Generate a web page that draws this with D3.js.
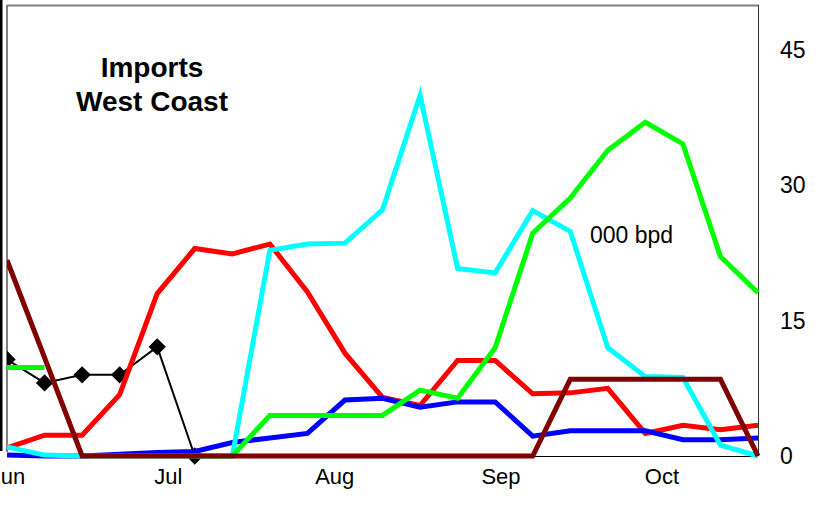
<!DOCTYPE html>
<html>
<head>
<meta charset="utf-8">
<script src="https://cdn.jsdelivr.net/npm/d3@7"></script>
<style>
  body { margin: 0; background: #fff; }
  svg { display: block; font-family: Arial, "Liberation Sans", sans-serif; }
</style>
</head>
<body>
<div id="chart"></div>
<script>
var w = 818, h = 506;
var plot = {left: 7, right: 758, top: 5, bottom: 456};

// weekly observations
var weeks = ["2003-06-01","2003-06-08","2003-06-15","2003-06-22","2003-06-29",
             "2003-07-06","2003-07-13","2003-07-20","2003-07-27","2003-08-03",
             "2003-08-10","2003-08-17","2003-08-24","2003-08-31","2003-09-07",
             "2003-09-14","2003-09-21","2003-09-28","2003-10-05","2003-10-12","2003-10-19"];

var monthTicks = ["2003-06-01","2003-07-01","2003-08-01","2003-09-01","2003-10-01"];
var monthLabels = ["Jun","Jul","Aug","Sep","Oct"];
var yTicks = [0, 15, 30, 45];

var redVals    = [0.9, 2.3, 2.3, 6.8, 18.0, 23.0, 22.4, 23.5, 18.2, 11.4, 6.5, 5.6, 10.6, 10.6, 6.9, 7.0, 7.5, 2.5, 3.4, 2.9, 3.4];
var blueVals   = [0.1, 0, 0, 0.2, 0.4, 0.5, 1.5, 2.0, 2.5, 6.2, 6.4, 5.4, 6.0, 6.0, 2.2, 2.8, 2.8, 2.8, 1.8, 1.8, 2.0];
var cyanVals   = [1.0, 0.1, 0, 0, 0, 0, 0, 22.8, 23.5, 23.6, 27.3, 40.0, 20.8, 20.3, 27.2, 24.9, 12.0, 8.8, 8.7, 1.2, 0];
var greenVals  = [9.8, 9.8, null, null, null, 0, 0, 4.5, 4.5, 4.5, 4.5, 7.3, 6.4, 12.0, 24.7, 28.6, 33.9, 37.0, 34.6, 22.1, 18.1];
var maroonVals = [21.7, 10.9, 0, 0, 0, 0, 0, 0, 0, 0, 0, 0, 0, 0, 0, 8.5, 8.5, 8.5, 8.5, 8.5, 0];
var blackVals  = [10.7, 8.1, 9.0, 9.0, 12.1, 0, null, null, null, null, null, null, null, null, null, null, null, null, null, null, null];

var parse = d3.timeParse("%Y-%m-%d");
var dates = weeks.map(parse);

var series = [
  {name: "black",  values: blackVals,  color: "#000000", width: 2},
  {name: "red",    values: redVals,    color: "#ff0000", width: 5},
  {name: "blue",   values: blueVals,   color: "#0000ff", width: 5},
  {name: "cyan",   values: cyanVals,   color: "#00ffff", width: 5},
  {name: "green",  values: greenVals,  color: "#00ff00", width: 5},
  {name: "maroon", values: maroonVals, color: "#800000", width: 5}
];

var svg = d3.select("#chart").append("svg")
            .attr("width", w)
            .attr("height", h);

var xScale = d3.scaleTime()
               .domain([dates[0], dates[dates.length - 1]])
               .range([plot.left, plot.right]);

var yScale = d3.scaleLinear()
               .domain([0, 50])
               .range([plot.bottom, plot.top]);

// clip marks at left edge of the frame
svg.append("clipPath").attr("id", "plotclip")
   .append("rect")
   .attr("x", plot.left).attr("y", 0)
   .attr("width", w - plot.left).attr("height", h);

// remnant of the neighbouring panel at the far left
svg.append("line")
   .attr("x1", 1).attr("x2", 1)
   .attr("y1", 0).attr("y2", 451)
   .attr("stroke", "#000").attr("stroke-width", 3);

// frame
svg.append("line")
   .attr("x1", plot.left).attr("x2", plot.right + 1)
   .attr("y1", plot.top + 0.5).attr("y2", plot.top + 0.5)
   .attr("stroke", "#808080").attr("stroke-width", 2);
svg.append("line")
   .attr("x1", plot.left).attr("x2", plot.left)
   .attr("y1", plot.top).attr("y2", plot.bottom - 4)
   .attr("stroke", "#808080").attr("stroke-width", 2);
svg.append("line")
   .attr("x1", plot.right + 0.5).attr("x2", plot.right + 0.5)
   .attr("y1", plot.top).attr("y2", plot.bottom)
   .attr("stroke", "#333").attr("stroke-width", 1);
svg.append("line")
   .attr("x1", plot.left).attr("x2", plot.right)
   .attr("y1", plot.bottom + 0.5).attr("y2", plot.bottom + 0.5)
   .attr("stroke", "#000").attr("stroke-width", 1);

// lines
var line = d3.line()
             .defined(function(d) { return d != null; })
             .x(function(d, i) { return xScale(dates[i]); })
             .y(function(d) { return yScale(d); });

var marks = svg.append("g").attr("clip-path", "url(#plotclip)");

marks.selectAll("path.series")
     .data(series)
     .enter()
     .append("path")
     .attr("class", "series")
     .attr("d", function(d) { return line(d.values); })
     .attr("fill", "none")
     .attr("stroke", function(d) { return d.color; })
     .attr("stroke-width", function(d) { return d.width; });

// diamonds on the black series (drawn right after it, under the thick lines)
var diamond = d3.symbol().type(d3.symbolSquare).size(150);
marks.insert("g", "path.series:nth-of-type(2)")
     .selectAll("path")
     .data(blackVals.map(function(v, i) { return {v: v, d: dates[i]}; })
                    .filter(function(p) { return p.v != null; }))
     .enter()
     .append("path")
     .attr("d", diamond)
     .attr("transform", function(p) {
         return "translate(" + xScale(p.d) + "," + yScale(p.v) + ")rotate(45)";
     })
     .attr("fill", "#000");

// x axis month labels
var xAxis = d3.axisBottom(xScale)
              .tickValues(monthTicks.map(parse))
              .tickFormat(function(d, i) { return monthLabels[i]; })
              .tickSize(0)
              .tickPadding(12);
var gx = svg.append("g")
            .attr("transform", "translate(0," + plot.bottom + ")")
            .call(xAxis);
gx.select(".domain").remove();
gx.selectAll("text")
  .attr("font-size", "22px")
  .attr("font-family", "Arial, 'Liberation Sans', sans-serif")
  .attr("fill", "#000");

// right y axis
var yAxis = d3.axisRight(yScale)
              .tickValues(yTicks)
              .tickSize(0)
              .tickPadding(22);
var gy = svg.append("g")
            .attr("transform", "translate(" + plot.right + ",0)")
            .call(yAxis);
gy.select(".domain").remove();
gy.selectAll("text")
  .attr("font-size", "23px")
  .attr("font-family", "Arial, 'Liberation Sans', sans-serif")
  .attr("fill", "#000");

// title
svg.append("text")
   .attr("x", 152).attr("y", 77)
   .attr("text-anchor", "middle")
   .attr("font-size", "28px")
   .attr("font-weight", "bold")
   .text("Imports");
svg.append("text")
   .attr("x", 152).attr("y", 111)
   .attr("text-anchor", "middle")
   .attr("font-size", "28px")
   .attr("font-weight", "bold")
   .text("West Coast");

// units label
svg.append("text")
   .attr("x", 590).attr("y", 243)
   .attr("font-size", "23px")
   .text("000 bpd");
</script>
</body>
</html>
